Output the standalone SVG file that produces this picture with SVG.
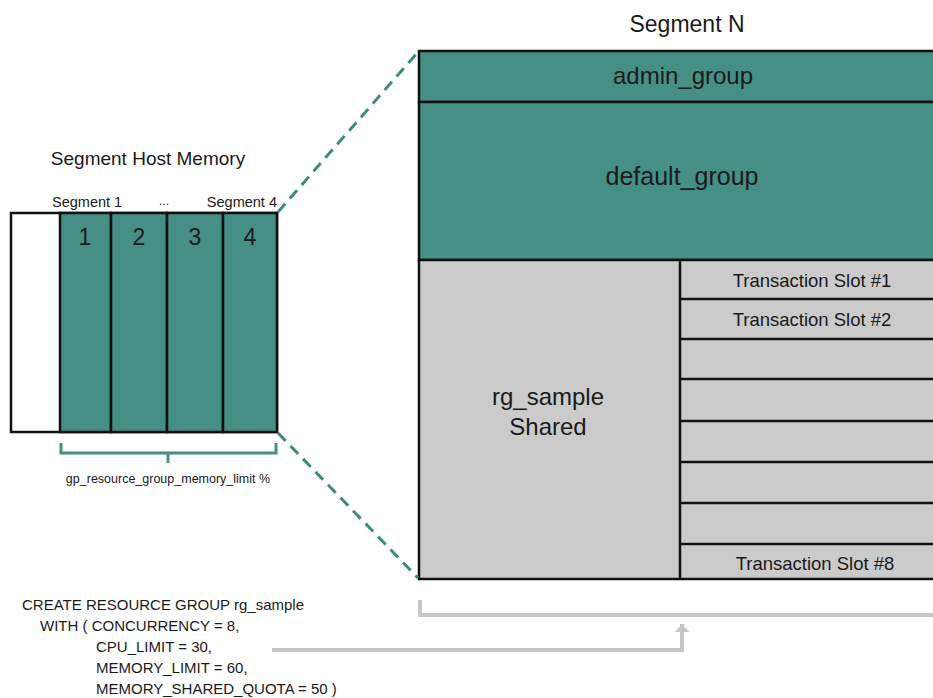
<svg xmlns="http://www.w3.org/2000/svg" width="933" height="698" viewBox="0 0 933 698">
<style>
text{font-family:"Liberation Sans",Arial,sans-serif;fill:#1a1a1a}
.teal{fill:#458f84;stroke:#111;stroke-width:2.5}
.gray{fill:#cbcbcb;stroke:#111;stroke-width:2.5}
.ln{stroke:#111;stroke-width:2.5;fill:none}
.dash{stroke:#3f8b7e;stroke-width:3;stroke-dasharray:11 7;fill:none}
.brk{stroke:#458f84;stroke-width:3;fill:none}
.gl{stroke:#c6c6c6;stroke-width:4;fill:none}
.c{text-anchor:middle}
.sql{font-size:15px}
</style>
<defs>
<marker id="ah" markerWidth="4" markerHeight="4" refX="2" refY="2" orient="auto" markerUnits="strokeWidth">
<path d="M0,0.2 L2,2 L0,3.8 Z" fill="#c6c6c6"/>
</marker>
</defs>
<g id="host-memory">
<text x="148" y="165" class="c" font-size="19">Segment Host Memory</text>
<text x="52" y="207" font-size="14.5">Segment 1</text>
<text x="164" y="205" class="c" font-size="12">...</text>
<text x="277" y="207" font-size="14.5" text-anchor="end">Segment 4</text>
<rect x="11" y="213" width="266" height="219" fill="#fff" stroke="#111" stroke-width="2.5"/>
<rect x="60" y="213" width="51" height="219" class="teal"/>
<rect x="111" y="213" width="56" height="219" class="teal"/>
<rect x="167" y="213" width="56" height="219" class="teal"/>
<rect x="223" y="213" width="54" height="219" class="teal"/>
<text x="85" y="245" class="c" font-size="23">1</text>
<text x="139" y="245" class="c" font-size="23">2</text>
<text x="195" y="245" class="c" font-size="23">3</text>
<text x="250" y="245" class="c" font-size="23">4</text>
<path class="brk" d="M61,443 V453 H276 V443 M168,453 V463"/>
<text x="168" y="483" class="c" font-size="12.5">gp_resource_group_memory_limit %</text>
</g>
<g id="segment-n">
<text x="687" y="32" class="c" font-size="23">Segment N</text>
<rect x="419" y="51" width="530" height="51" class="teal"/>
<text x="683" y="84" class="c" font-size="24">admin_group</text>
<rect x="419" y="102" width="530" height="158" class="teal"/>
<text x="682" y="185" class="c" font-size="25">default_group</text>
<rect x="419" y="260" width="530" height="319" class="gray"/>
<line x1="680" y1="260" x2="680" y2="579" class="ln"/>
<path class="ln" d="M680,299 H940 M680,339 H940 M680,379 H940 M680,421 H940 M680,462 H940 M680,503 H940 M680,544 H940"/>
<text x="548" y="405" class="c" font-size="24">rg_sample</text>
<text x="548" y="435" class="c" font-size="24">Shared</text>
<text x="812" y="287" class="c" font-size="18.5">Transaction Slot #1</text>
<text x="812" y="326" class="c" font-size="18.5">Transaction Slot #2</text>
<text x="815" y="570" class="c" font-size="18.5">Transaction Slot #8</text>
</g>
<g id="sql">
<text class="sql" x="22" y="610">CREATE RESOURCE GROUP rg_sample</text>
<text class="sql" x="40" y="631">WITH ( CONCURRENCY = 8,</text>
<text class="sql" x="96" y="652">CPU_LIMIT = 30,</text>
<text class="sql" x="96" y="673">MEMORY_LIMIT = 60,</text>
<text class="sql" x="96" y="694">MEMORY_SHARED_QUOTA = 50 )</text>
</g>
<g id="connectors">
<line x1="278" y1="212" x2="418" y2="52" class="dash"/>
<line x1="278" y1="433" x2="418" y2="578" class="dash"/>
<path class="gl" d="M420,600 V615 H940"/>
<path class="gl" d="M272,650 H682 V624" marker-end="url(#ah)"/>
</g>
</svg>
